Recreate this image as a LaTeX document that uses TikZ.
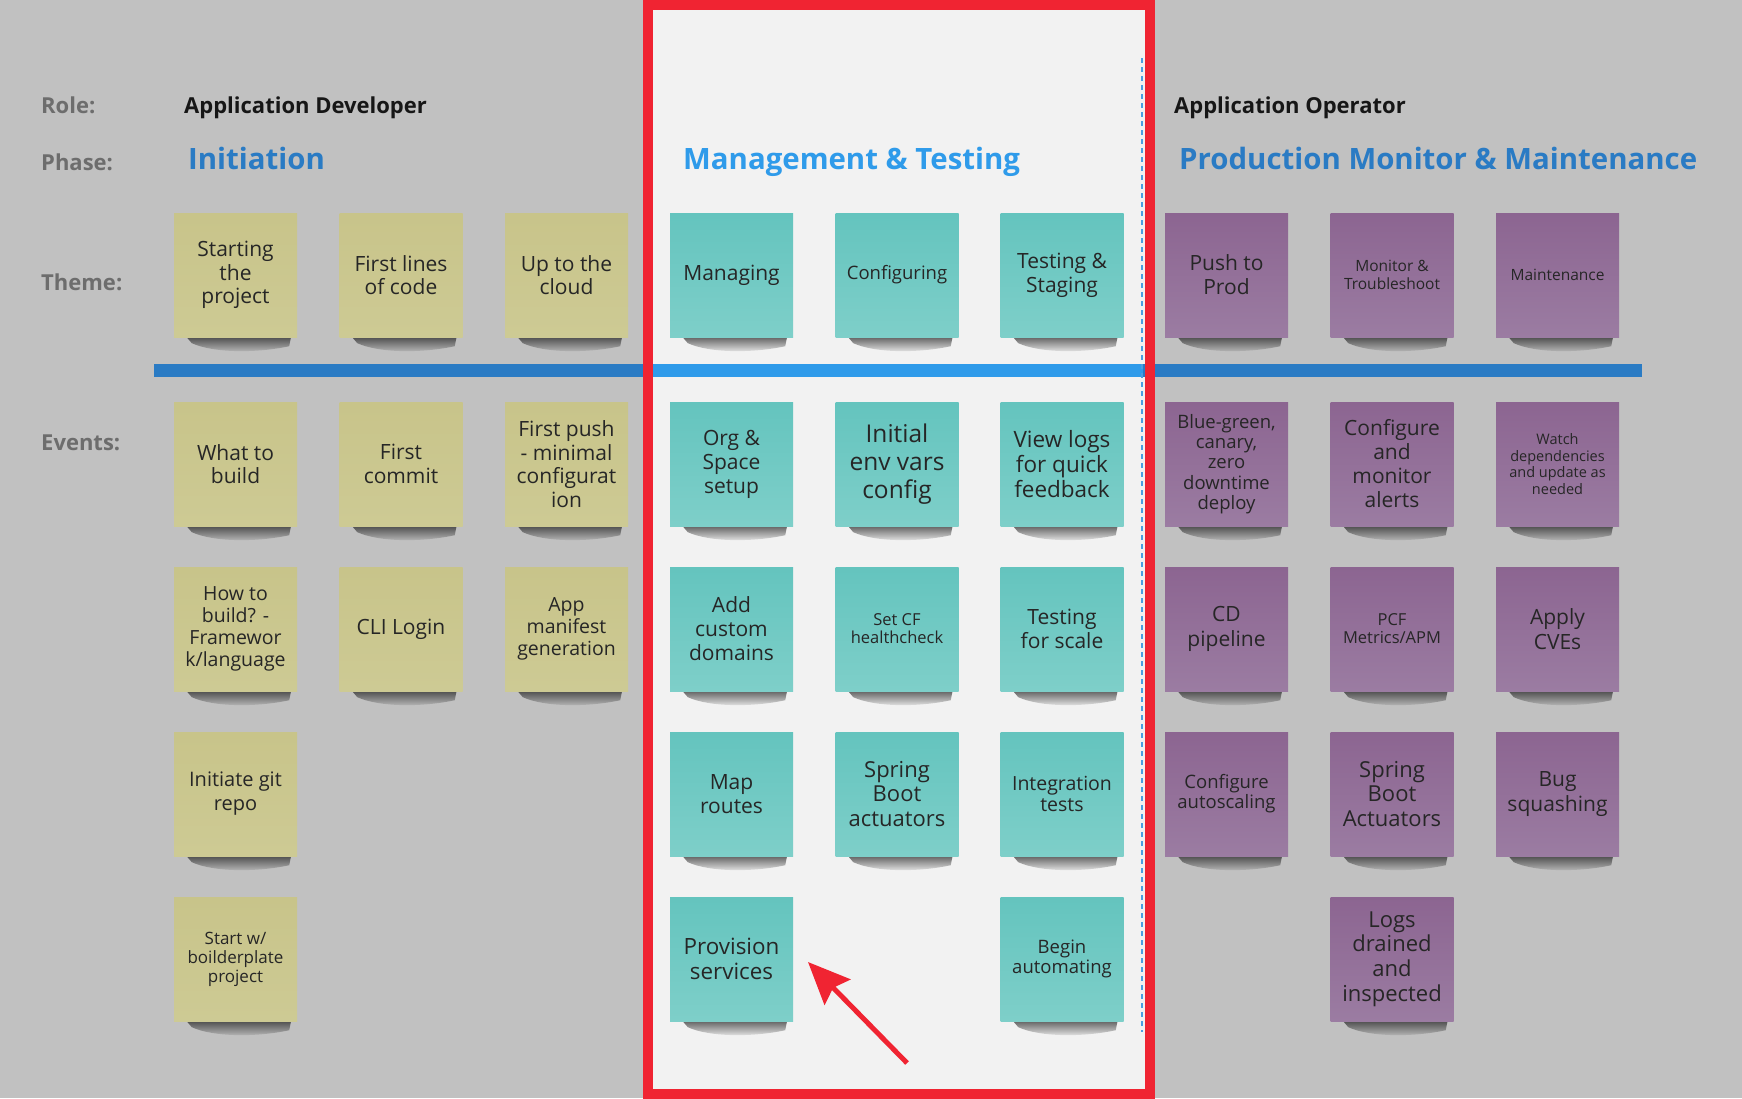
\documentclass[tikz,border=0pt]{standalone}
\usepackage{fontspec}
\setmainfont{Open Sans}
\usetikzlibrary{fadings,arrows.meta,backgrounds}

\definecolor{boardgray}{HTML}{C1C1C1}
\definecolor{panelgray}{HTML}{F2F2F2}
\definecolor{labelgray}{HTML}{6D6D6D}
\definecolor{rolecol}{HTML}{161616}
\definecolor{phaseblue}{HTML}{2A7BC4}
\definecolor{phasebright}{HTML}{2F9BEA}
\definecolor{dashblue}{HTML}{4A9FE2}
\definecolor{marker}{HTML}{F02432}
\definecolor{devtop}{HTML}{C8C48A}
\definecolor{devbot}{HTML}{CDCA94}
\definecolor{mgmttop}{HTML}{64C4BE}
\definecolor{mgmtbot}{HTML}{7ECFC9}
\definecolor{opstop}{HTML}{8C6591}
\definecolor{opsbot}{HTML}{9B7CA2}
\definecolor{inkdark}{HTML}{262626}

\newcommand{\nsz}[2]{\fontsize{#1}{#2}\selectfont}
\tikzfading[name=shadowfade,top color=transparent!5,bottom color=transparent!100]

\begin{document}
\begin{tikzpicture}[x=1pt,y=-1pt,
  note/.style={minimum width=123pt,minimum height=124pt,inner sep=0pt,align=center,text=inkdark},
  devnote/.style={note,top color=devtop,bottom color=devbot},
  mgmtnote/.style={note,top color=mgmttop,bottom color=mgmtbot},
  opsnote/.style={note,top color=opstop,bottom color=opsbot},
  noteshadow/.style={fill=black,fill opacity=0.65,path fading=shadowfade},
  rowlabel/.style={anchor=base west,inner sep=0pt,text=labelgray,font=\bfseries\nsz{22}{26}},
  rolename/.style={anchor=base west,inner sep=0pt,text=rolecol,font=\bfseries\nsz{22}{26}},
  phasename/.style={anchor=base west,inner sep=0pt,font=\bfseries\nsz{29.4}{34}},
  pointer/.style={marker,line width=5pt,-{Stealth[length=42pt,width=36pt,inset=6pt]}}]

\useasboundingbox (0,0) rectangle (1742,1098);

\node[rowlabel] (rolelbl) at (41,113) {Role:} ;
\node[rowlabel] (phaselbl) at (41,170) {Phase:} ;
\node[rowlabel] (themelbl) at (41,290) {Theme:} ;
\node[rowlabel] (eventslbl) at (41,450) {Events:} ;

\node[rolename] (devrole) at (184,113) {Application Developer} ;
\node[rolename] (opsrole) at (1174,113) {Application Operator} ;
\node[phasename,text=phaseblue] (initphase) at (188,169) {Initiation} ;
\node[phasename,text=phasebright] (mgmtphase) at (683,169) {Management \& Testing} ;
\node[phasename,text=phaseblue] (prodphase) at (1179,169) {Production Monitor \& Maintenance} ;

\node[devnote,font = \nsz{21}{23.5}] (startproj) at (235.5,275) {Starting\\the\\project} ;
\node[devnote,font = \nsz{21}{23.5}] (firstlines) at (401,275) {First lines\\of code} ;
\node[devnote,font = \nsz{21}{23.5}] (uptocloud) at (566.5,275) {Up to the\\cloud} ;
\node[mgmtnote,font = \nsz{21}{24}] (managing) at (731.5,275) {Managing} ;
\node[mgmtnote,font = \nsz{18.5}{21}] (configuring) at (897,275) {Configuring} ;
\node[mgmtnote,font = \nsz{21}{24}] (teststaging) at (1062,275) {Testing \&\\Staging} ;
\node[opsnote,font = \nsz{21}{24}] (pushprod) at (1226.5,275) {Push to\\Prod} ;
\node[opsnote,font = \nsz{15.5}{18}] (monitor) at (1392,275) {Monitor \&\\Troubleshoot} ;
\node[opsnote,font = \nsz{15.5}{18}] (maintain) at (1557.5,275) {Maintenance} ;

\node[devnote,font = \nsz{21}{23.5}] (whatbuild) at (235.5,464) {What to\\build} ;
\node[devnote,font = \nsz{19.5}{22}] (howbuild) at (235.5,629) {How to\\build? -\\Framewor\\k/language} ;
\node[devnote,font = \nsz{20}{24}] (initgit) at (235.5,794) {Initiate git\\repo} ;
\node[devnote,font = \nsz{17}{19}] (boilerplate) at (235.5,959) {Start w/\\boilderplate\\project} ;

\node[devnote,font = \nsz{21}{23.5}] (firstcommit) at (401,464) {First\\commit} ;
\node[devnote,font = \nsz{21}{24}] (clilogin) at (401,629) {CLI Login} ;

\node[devnote,font = \nsz{21}{23.7}] (firstpush) at (566.5,464) {First push\\- minimal\\configurat\\ion} ;
\node[devnote,font = \nsz{19.5}{22}] (appmanifest) at (566.5,629) {App\\manifest\\generation} ;

\node[mgmtnote,font = \nsz{21}{24}] (orgspace) at (731.5,464) {Org \&\\Space\\setup} ;
\node[mgmtnote,font = \nsz{21}{24}] (domains) at (731.5,629) {Add\\custom\\domains} ;
\node[mgmtnote,font = \nsz{21}{23.5}] (maproutes) at (731.5,794) {Map\\routes} ;
\node[mgmtnote,font = \nsz{22.4}{24.5}] (provision) at (731.5,959) {Provision\\services} ;

\node[mgmtnote,font = \nsz{24.5}{28}] (envvars) at (897,464) {Initial\\env vars\\config} ;
\node[mgmtnote,font = \nsz{16.5}{18}] (healthcheck) at (897,629) {Set CF\\healthcheck} ;
\node[mgmtnote,font = \nsz{22}{24.5}] (springboot) at (897,794) {Spring\\Boot\\actuators} ;

\node[mgmtnote,font = \nsz{22.5}{25}] (viewlogs) at (1062,464) {View logs\\for quick\\feedback} ;
\node[mgmtnote,font = \nsz{21}{24.5}] (testscale) at (1062,629) {Testing\\for scale} ;
\node[mgmtnote,font = \nsz{19.5}{21}] (integration) at (1062,794) {Integration\\tests} ;
\node[mgmtnote,font = \nsz{18.5}{20}] (automating) at (1062,959) {Begin\\automating} ;

\node[opsnote,font = \nsz{18.5}{20.3}] (bluegreen) at (1226.5,464) {Blue-green,\\canary,\\zero\\downtime\\deploy} ;
\node[opsnote,font = \nsz{21}{24.5}] (cdpipe) at (1226.5,629) {CD\\pipeline} ;
\node[opsnote,font = \nsz{18.5}{20}] (autoscale) at (1226.5,794) {Configure\\autoscaling} ;

\node[opsnote,font = \nsz{21}{24}] (alerts) at (1392,464) {Configure\\and\\monitor\\alerts} ;
\node[opsnote,font = \nsz{16.5}{18}] (pcfmetrics) at (1392,629) {PCF\\Metrics/APM} ;
\node[opsnote,font = \nsz{22}{24.5}] (actuators) at (1392,794) {Spring\\Boot\\Actuators} ;
\node[opsnote,font = \nsz{22}{24.8}] (logsdrained) at (1392,959) {Logs\\drained\\and\\inspected} ;

\node[opsnote,font = \nsz{14.5}{16.7}] (watchdeps) at (1557.5,464) {Watch\\dependencies\\and update as\\needed} ;
\node[opsnote,font = \nsz{21}{24.5}] (applycve) at (1557.5,629) {Apply\\CVEs} ;
\node[opsnote,font = \nsz{21}{24.5}] (bugsquash) at (1557.5,794) {Bug\\squashing} ;

\begin{pgfonlayer}{background}
\fill[boardgray] (0,0) rectangle (1742,1098);
\fill[panelgray] (648,4.5) rectangle (1150,1093.5);
\fill[phaseblue] (154,363.5) rectangle (1642,377);
\fill[phasebright] (653,363.5) rectangle (1143,377);
\draw[dashblue,line width=1.5pt,dash pattern=on 5pt off 4pt] (1142,58) -- (1142,1032);
\foreach \n in {startproj,firstlines,uptocloud,managing,configuring,teststaging,pushprod,monitor,maintain,
  whatbuild,howbuild,initgit,boilerplate,firstcommit,clilogin,firstpush,appmanifest,
  orgspace,domains,maproutes,provision,envvars,healthcheck,springboot,viewlogs,testscale,integration,automating,
  bluegreen,cdpipe,autoscale,alerts,pcfmetrics,actuators,logsdrained,watchdeps,applycve,bugsquash}
  \path[noteshadow] ([xshift=12pt,yshift=1pt]\n.south west) -- ([xshift=-6pt,yshift=1pt]\n.south east)
    -- ([xshift=-8pt,yshift=-9pt]\n.south east)
    .. controls ([xshift=-40pt,yshift=-16pt]\n.south east) and ([xshift=40pt,yshift=-16pt]\n.south west)
    .. ([xshift=18pt,yshift=-6pt]\n.south west) -- cycle;
\end{pgfonlayer}

\draw[marker,line width=10pt] (648,4.5) rectangle (1150,1093.5);

\coordinate (arrowtail) at (907,1063);
\coordinate (arrowtip) at (808,962);
\draw[pointer] (arrowtail) -- (arrowtip);
\end{tikzpicture}
\end{document}
